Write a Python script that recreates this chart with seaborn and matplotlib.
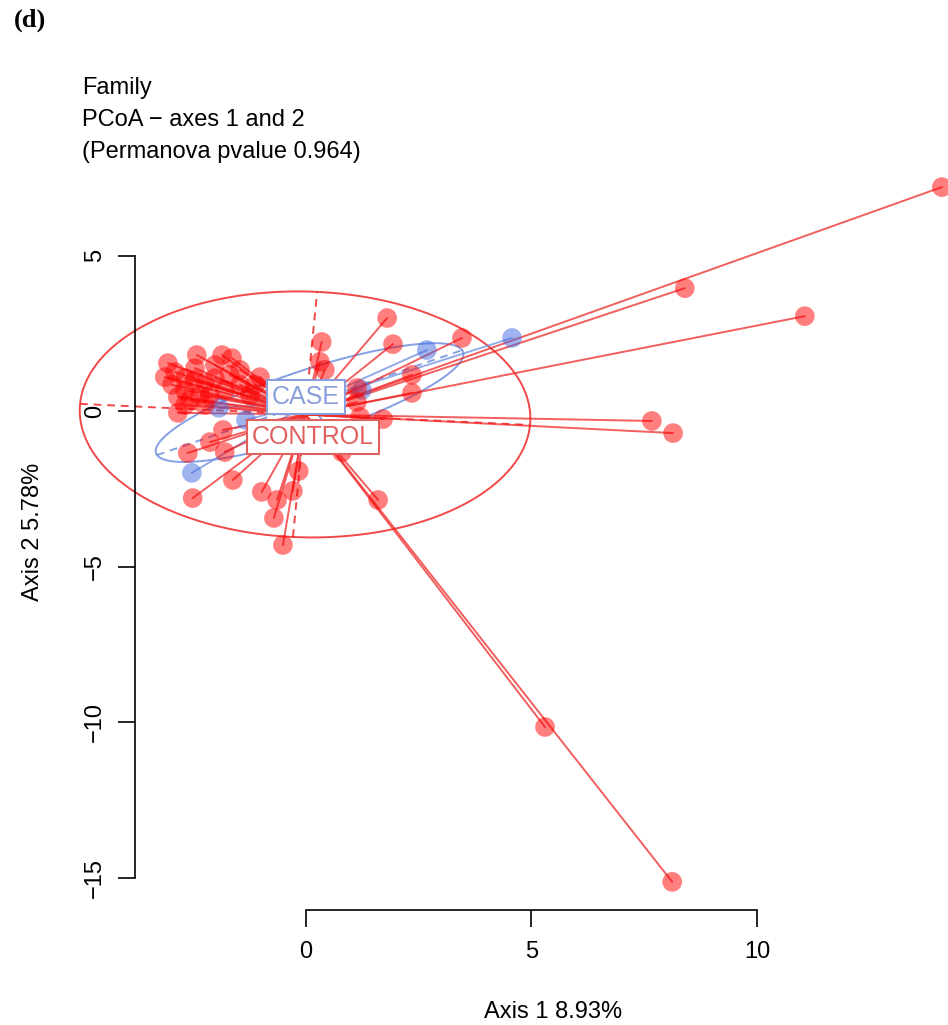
import numpy as np
import pandas as pd
import matplotlib
matplotlib.use("Agg")
import matplotlib.pyplot as plt
import seaborn as sns

# Sample scores on PCoA axes 1 and 2
case_x = [-2.53, -1.93, -1.33, 1.24, 2.68, 4.57, -0.58]
case_y = [-1.99, 0.10, -0.29, 0.68, 1.96, 2.35, 0.42]

control_x = [14.10, 8.40, 11.06, 7.67, 8.14, 5.30, 8.12, 1.60,
             1.80, 1.93, 3.46, 0.35, 0.31, 0.42, 2.35, 2.35, 1.13, 1.13,
             1.20, 1.71, 0.80,
             -0.16, -0.29, -0.64, -0.71, -0.51, -0.98, -1.62, -2.51,
             -1.80, -2.13, -1.84, -2.62,
             -3.06, -3.13, -2.42, -1.86, -1.64, -1.02, -2.84, -2.84,
             -2.97, -2.68, -2.46, -2.24, -2.02, -2.35, -2.57, -2.13,
             -1.80, -1.46, -1.69, -1.24, -2.68, -2.24, -2.90, -2.02,
             -1.46, -2.46, -2.68, -1.13]
control_y = [7.20, 3.95, 3.05, -0.32, -0.71, -10.16, -15.14, -2.86,
             2.99, 2.15, 2.35, 2.22, 1.58, 1.32, 1.16, 0.58, 0.74, 0.29,
             -0.19, -0.26, -1.32,
             -1.93, -2.57, -2.86, -3.44, -4.31, -2.60, -2.22, -2.80,
             -1.32, -1.00, -0.61, -1.35,
             1.54, 1.09, 1.80, 1.80, 1.70, 1.09, 0.45, -0.06,
             0.84, 1.06, 1.00, 0.90, 1.06, 0.51, 0.35, 0.51,
             0.68, 0.84, 1.16, 0.51, 0.19, 0.19, 1.25, 1.48,
             1.32, 1.38, 0.68, 0.84]

# Group centroids, dispersion ellipses (semi-axes, orientation in degrees)
groups = ["CASE", "CONTROL"]
centre_x = [0.08, -0.02]
centre_y = [0.27, -0.11]
ellipse_a = [3.78, 5.00]
ellipse_b = [1.00, 3.95]
ellipse_angle = [26.5, -3.9]
label_x = [0.00, 0.155]
label_y = [0.45, -0.84]

x_ticks = [0, 5, 10]
y_ticks = [-15, -10, -5, 0, 5]

point_colour = {"CASE": "#4169E1", "CONTROL": "#FF0000"}
line_colour = {"CASE": "#6F8FE0", "CONTROL": "#F02828"}
text_colour = {"CASE": "#8A9EDC", "CONTROL": "#E06060"}

sns.set_style("white")
plt.rcParams["font.family"] = ["Liberation Sans", "DejaVu Sans"]
plt.rcParams["text.color"] = "black"

df = pd.DataFrame({
    "x": case_x + control_x,
    "y": case_y + control_y,
    "group": ["CASE"] * len(case_x) + ["CONTROL"] * len(control_x),
})

W, H = 948, 1025
fig = plt.figure(figsize=(W / 100, H / 100), dpi=100)
ax = fig.add_axes([135 / W, 1 - 910 / H, (971 - 135) / W, (910 - 154) / H])
ax.set_xlim(-3.79, 14.745)
ax.set_ylim(-16.045, 8.264)

t = np.linspace(0, 2 * np.pi, 300)
for i, g in enumerate(groups):
    cx, cy = centre_x[i], centre_y[i]
    a, b = ellipse_a[i], ellipse_b[i]
    th = np.deg2rad(ellipse_angle[i])
    ex = cx + a * np.cos(t) * np.cos(th) - b * np.sin(t) * np.sin(th)
    ey = cy + a * np.cos(t) * np.sin(th) + b * np.sin(t) * np.cos(th)
    ax.plot(ex, ey, color=line_colour[g], lw=1.4, alpha=0.85, clip_on=False, zorder=2)
    # ellipse axes
    ax.plot([cx - a * np.cos(th), cx + a * np.cos(th)],
            [cy - a * np.sin(th), cy + a * np.sin(th)],
            color=line_colour[g], lw=1.4, ls=(0, (4, 3)), alpha=0.85, clip_on=False, zorder=2)
    ax.plot([cx + b * np.sin(th), cx - b * np.sin(th)],
            [cy - b * np.cos(th), cy + b * np.cos(th)],
            color=line_colour[g], lw=1.4, ls=(0, (4, 3)), alpha=0.85, clip_on=False, zorder=2)

# star segments from each sample to its group centroid
for i, g in enumerate(groups):
    sub = df[df["group"] == g]
    for px, py in zip(sub["x"], sub["y"]):
        ax.plot([centre_x[i], px], [centre_y[i], py], color=line_colour[g],
                lw=1.4, alpha=0.75, clip_on=False, zorder=3)

sns.scatterplot(data=df, x="x", y="y", hue="group", palette=point_colour,
                s=200, alpha=0.5, edgecolor="none", legend=False, ax=ax,
                clip_on=False, zorder=4)

for i, g in enumerate(groups):
    ax.text(label_x[i], label_y[i], g, fontsize=18, color=text_colour[g],
            ha="center", va="center", zorder=6,
            bbox=dict(boxstyle="square,pad=0.2", fc="white",
                      ec=text_colour[g], lw=1.5))

sns.despine(ax=ax, top=True, right=True)
ax.spines["left"].set_bounds(-15, 5)
ax.spines["bottom"].set_bounds(0, 10)
for s in ("left", "bottom"):
    ax.spines[s].set_linewidth(1.2)
    ax.spines[s].set_color("black")
ax.set_xticks(x_ticks)
ax.set_yticks(y_ticks)
ax.set_xticklabels([str(v) for v in x_ticks])
ax.set_yticklabels([str(v).replace("-", "\u2212") for v in y_ticks],
                   rotation=90, va="center")
ax.tick_params(axis="both", direction="out", length=12, width=1.2,
               labelsize=17, colors="black", labelcolor="black",
               left=True, bottom=True)
ax.tick_params(axis="x", pad=10)
ax.tick_params(axis="y", pad=9)
ax.set_xlabel("")
ax.set_ylabel("")

fig.text(553 / W, 1 - 1012 / H, "Axis 1 8.93%", fontsize=17,
         ha="center", va="center", color="black")
fig.text(33 / W, 1 - 532 / H, "Axis 2 5.78%", fontsize=17,
         ha="center", va="center", rotation=90, color="black")

title_lines = ["Family", "PCoA \u2212 axes 1 and 2", "(Permanova pvalue 0.964)"]
for k, line in enumerate(title_lines):
    fig.text(82 / W, 1 - (88 + 32 * k) / H, line, fontsize=17,
             ha="left", va="center", color="black")

fig.text(14 / W, 1 - 20 / H, "(d)", fontsize=19, fontweight="bold",
         family=["Liberation Serif", "DejaVu Serif"], ha="left", va="center",
         color="black")

fig.savefig("out.png", dpi=100, facecolor="white")
